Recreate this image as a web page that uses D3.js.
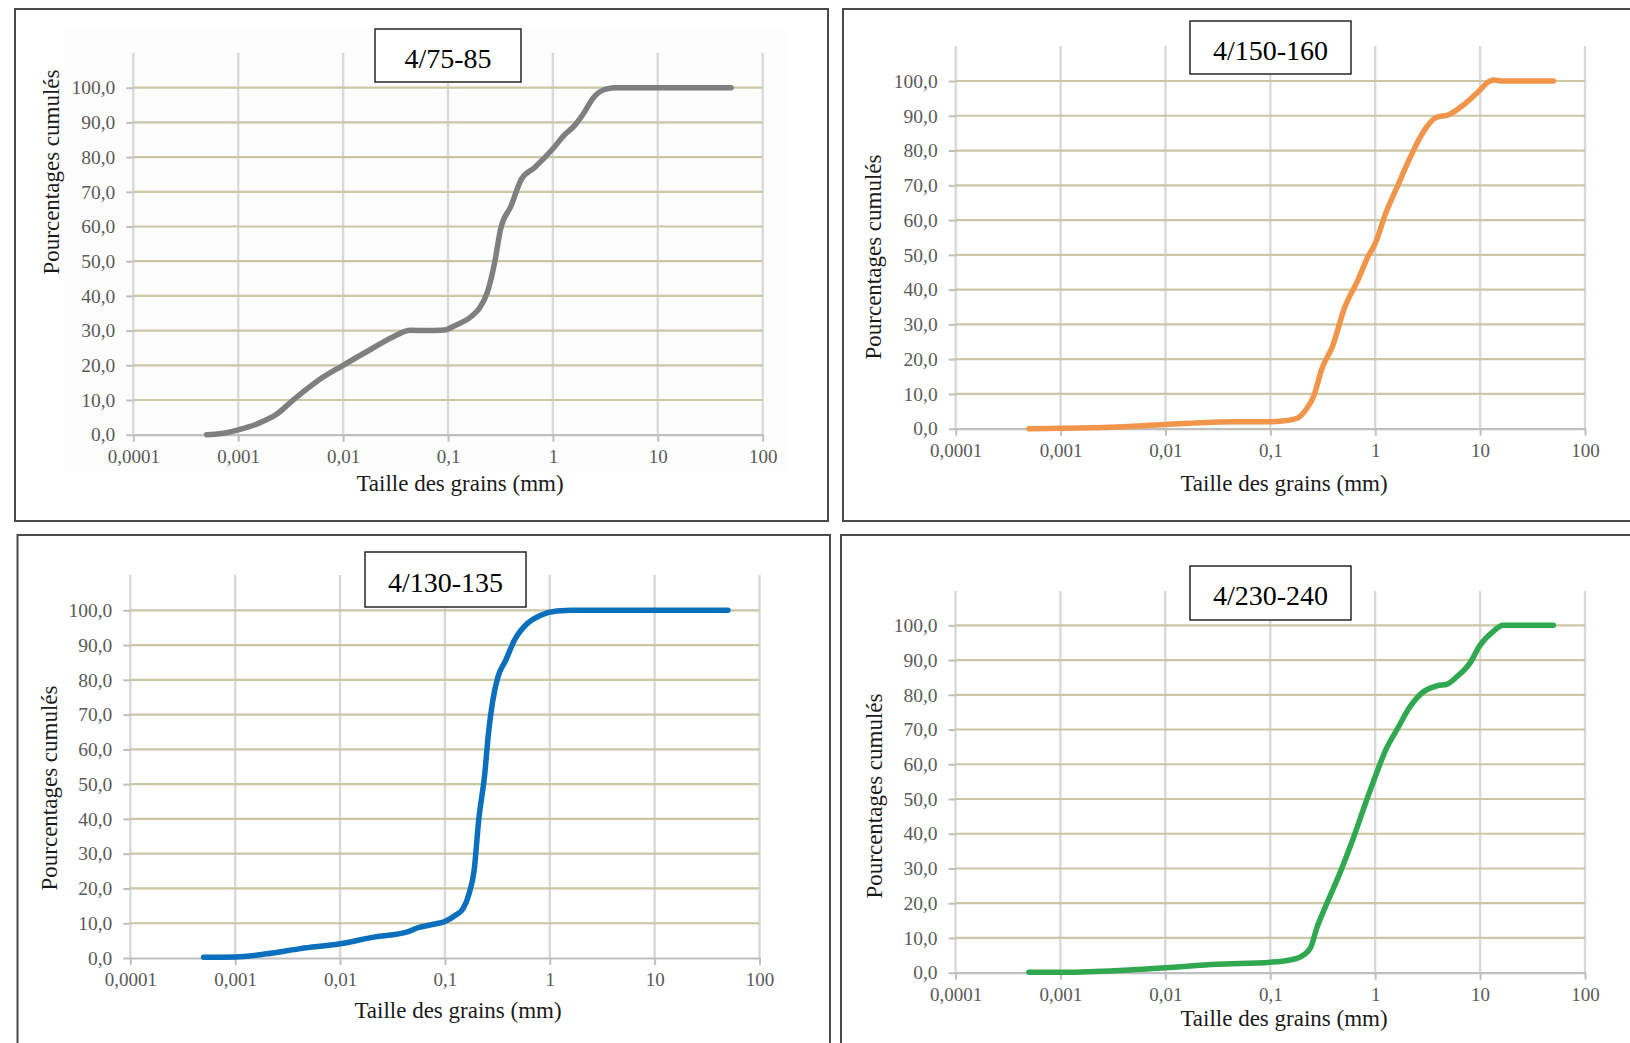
<!DOCTYPE html>
<html>
<head>
<meta charset="utf-8">
<script src="https://cdnjs.cloudflare.com/ajax/libs/d3/7.8.5/d3.min.js"></script>
<style>
  html, body { margin: 0; padding: 0; background: #ffffff; }
  svg { display: block; }
  text { font-family: "Liberation Serif", "Times New Roman", serif; }
</style>
</head>
<body>
<svg id="chart" width="1630" height="1043"></svg>
<script>
// ---------- DATA ----------
const xTickValues = [0.0001, 0.001, 0.01, 0.1, 1, 10, 100];
const xTickLabels = ["0,0001", "0,001", "0,01", "0,1", "1", "10", "100"];
const yTickValues = [0, 10, 20, 30, 40, 50, 60, 70, 80, 90, 100];
const yTickLabels = ["0,0", "10,0", "20,0", "30,0", "40,0", "50,0", "60,0", "70,0", "80,0", "90,0", "100,0"];

const titles = ["4/75-85", "4/150-160", "4/130-135", "4/230-240"];
const xAxisTitle = "Taille des grains (mm)";
const yAxisTitle = "Pourcentages cumulés";

// 4/75-85 (grey)
const size75 = [0.0005, 0.0007, 0.001, 0.0016, 0.0023, 0.0034, 0.0057, 0.01, 0.0186, 0.0295, 0.044, 0.059, 0.093, 0.117, 0.166, 0.2, 0.237, 0.28, 0.316, 0.4, 0.5, 0.67, 1, 1.27, 1.6, 2.0, 2.4, 3.2, 4.1, 50];
const pct75  = [0, 0.35, 1.4, 3.4, 5.8, 10.2, 15.5, 20, 24.7, 28.1, 30.1, 30, 30.2, 31.5, 34, 36.5, 41, 50, 59, 66, 73.6, 77, 82.4, 86.2, 89, 93, 96.9, 99.6, 100, 100];

// 4/150-160 (orange)
const size150 = [0.0005, 0.001, 0.003, 0.01, 0.045, 0.1, 0.13, 0.18, 0.22, 0.26, 0.31, 0.39, 0.51, 0.68, 0.85, 1, 1.26, 1.66, 2.2, 2.75, 3.8, 5.0, 7.0, 9.4, 12.4, 13.7, 16, 50];
const pct150  = [0, 0.1, 0.4, 1.2, 2.0, 2.0, 2.2, 3.0, 5.6, 9.5, 17.3, 23.6, 34.8, 42.6, 49.4, 53.3, 62, 70.3, 78.6, 84.4, 89.5, 90.3, 93.2, 96.6, 100, 100.3, 100, 100];

// 4/130-135 (blue)
const size130 = [0.0005, 0.001, 0.002, 0.0042, 0.01, 0.021, 0.044, 0.055, 0.078, 0.1, 0.126, 0.149, 0.17, 0.19, 0.21, 0.24, 0.26, 0.286, 0.32, 0.38, 0.46, 0.61, 0.82, 1.17, 1.66, 50];
const pct130  = [0.2, 0.3, 1.2, 2.7, 4.1, 6.0, 7.5, 8.7, 9.7, 10.5, 12.3, 14.2, 18.5, 25.2, 39.6, 53, 64.5, 74, 80.8, 85.6, 91.4, 96.2, 98.6, 99.8, 100, 100];

// 4/230-240 (green)
const size230 = [0.0005, 0.001, 0.003, 0.01, 0.031, 0.1, 0.15, 0.19, 0.24, 0.28, 0.33, 0.46, 0.61, 0.81, 1, 1.26, 1.67, 2.1, 2.76, 3.9, 4.8, 6.0, 8.0, 10, 13.3, 16.6, 50];
const pct230  = [0.1, 0.1, 0.5, 1.4, 2.4, 3.0, 3.6, 4.4, 7.0, 13.2, 18.5, 28.6, 38.2, 48.8, 56.4, 64.1, 70.8, 76.1, 80.4, 82.6, 83, 85.2, 89.1, 94.3, 98.2, 100, 100];

const seriesX = [size75, size150, size130, size230];
const seriesY = [pct75, pct150, pct130, pct230];
const seriesColors = ["#7f7f7f", "#f0954a", "#0a6fbd", "#2fa84f"];

// ---------- LAYOUT ----------
const panels = [
  { box: [15, 9, 813, 512], x0: 133.3, x1: 762.7, y0: 434.7, y100: 87.7, gridTop: 52.7,
    tbox: [375, 29, 146, 53], yTitleX: 51, yTitleY: 172, xTitleX: 460, xTitleY: 483, bg: [64, 30, 724, 441] },
  { box: [843, 9, 800, 512], x0: 955.7, x1: 1585, y0: 428.7, y100: 81, gridTop: 46,
    tbox: [1190, 21, 161, 53], yTitleX: 873, yTitleY: 257, xTitleX: 1284, xTitleY: 483, bg: null },
  { box: [17.5, 535, 812.5, 520], x0: 130.3, x1: 759.5, y0: 958, y100: 610.3, gridTop: 575,
    tbox: [365, 552, 161, 55], yTitleX: 49, yTitleY: 788, xTitleX: 458, xTitleY: 1010, bg: null },
  { box: [841, 535, 800, 520], x0: 955.5, x1: 1585, y0: 972.7, y100: 625.3, gridTop: 591,
    tbox: [1190, 566, 161, 54], yTitleX: 874, yTitleY: 796, xTitleX: 1284, xTitleY: 1018, bg: null }
];

const svg = d3.select("#chart");

panels.forEach((p, i) => {
  const g = svg.append("g");

  // panel border
  g.append("rect")
    .attr("x", p.box[0]).attr("y", p.box[1])
    .attr("width", p.box[2]).attr("height", p.box[3])
    .attr("fill", "#ffffff").attr("stroke", "#4a4a4a").attr("stroke-width", 2);

  if (p.bg) {
    g.append("rect")
      .attr("x", p.bg[0]).attr("y", p.bg[1]).attr("width", p.bg[2]).attr("height", p.bg[3])
      .attr("fill", "#fdfdfd");
  }

  const x = d3.scaleLog().domain([0.0001, 100]).range([p.x0, p.x1]);
  const y = d3.scaleLinear().domain([0, 100]).range([p.y0, p.y100]);

  // vertical gridlines
  g.append("g").selectAll("line").data(xTickValues).join("line")
    .attr("x1", d => x(d)).attr("x2", d => x(d))
    .attr("y1", p.gridTop).attr("y2", p.y0)
    .attr("stroke", "#d9d9d9").attr("stroke-width", 2.4);

  // horizontal gridlines
  g.append("g").selectAll("line").data(yTickValues.filter(v => v > 0)).join("line")
    .attr("x1", p.x0).attr("x2", p.x1)
    .attr("y1", d => y(d)).attr("y2", d => y(d))
    .attr("stroke", "#cbc6a4").attr("stroke-width", 2.2);

  // y axis
  const yAxis = d3.axisLeft(y).tickValues(yTickValues)
    .tickFormat((d, k) => yTickLabels[k]).tickSize(7).tickPadding(11);
  const ya = g.append("g").attr("transform", `translate(${p.x0},0)`).call(yAxis);
  ya.select(".domain").remove();
  ya.selectAll(".tick line").attr("stroke", "#bfbfbf").attr("stroke-width", 2);
  ya.selectAll(".tick text").attr("fill", "#595959").style("font-size", "19.5px")
    .style("font-family", "'Liberation Serif', 'Times New Roman', serif");

  // x axis
  const xAxis = d3.axisBottom(x).tickValues(xTickValues)
    .tickFormat((d, k) => xTickLabels[k]).tickSize(7).tickSizeOuter(0).tickPadding(8);
  const xa = g.append("g").attr("transform", `translate(0,${p.y0})`).call(xAxis);
  xa.select(".domain").attr("stroke", "#bfbfbf").attr("stroke-width", 2.2);
  xa.selectAll(".tick line").attr("stroke", "#bfbfbf").attr("stroke-width", 2);
  xa.selectAll(".tick text").attr("fill", "#595959").style("font-size", "19px")
    .style("font-family", "'Liberation Serif', 'Times New Roman', serif");

  // curve
  const pts = seriesX[i].map((v, k) => [v, seriesY[i][k]]);
  const line = d3.line().x(d => x(d[0])).y(d => y(d[1])).curve(d3.curveMonotoneX);
  g.append("path").datum(pts)
    .attr("d", line)
    .attr("fill", "none")
    .attr("stroke", seriesColors[i])
    .attr("stroke-width", 5.5)
    .attr("stroke-linecap", "round")
    .attr("stroke-linejoin", "round");

  // title box
  g.append("rect")
    .attr("x", p.tbox[0]).attr("y", p.tbox[1]).attr("width", p.tbox[2]).attr("height", p.tbox[3])
    .attr("fill", "#ffffff").attr("stroke", "#262626").attr("stroke-width", 1.5);
  g.append("text")
    .attr("x", p.tbox[0] + p.tbox[2] / 2).attr("y", p.tbox[1] + p.tbox[3] / 2 + 2)
    .attr("dy", "0.36em").attr("text-anchor", "middle")
    .attr("fill", "#000").style("font-size", "28px")
    .text(titles[i]);

  // axis titles
  g.append("text")
    .attr("x", p.xTitleX).attr("y", p.xTitleY).attr("dy", "0.33em")
    .attr("text-anchor", "middle").attr("fill", "#1a1a1a").style("font-size", "23px")
    .text(xAxisTitle);
  g.append("text")
    .attr("transform", `translate(${p.yTitleX},${p.yTitleY}) rotate(-90)`)
    .attr("dy", "0.33em")
    .attr("text-anchor", "middle").attr("fill", "#1a1a1a").style("font-size", "23px")
    .text(yAxisTitle);
});
</script>
</body>
</html>
